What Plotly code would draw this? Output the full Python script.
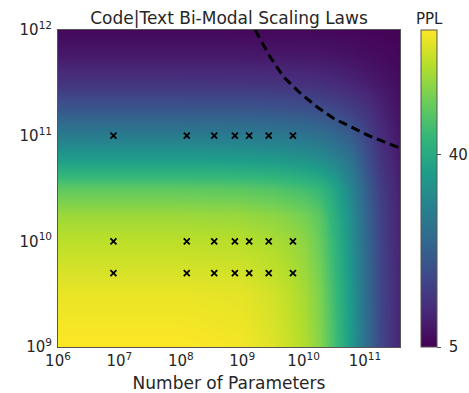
import numpy as np
import plotly.graph_objects as go

# Surface of the fitted perplexity, sampled on a log10 grid
log_params = [6, 8, 9, 9.5, 9.75, 10, 10.25, 10.5, 10.75, 11, 11.25, 11.57]
log_tokens = [9, 9.5, 10, 10.25, 10.5, 10.75, 11, 11.25, 11.5, 11.75, 12]
ppl_grid = [
    [62.7, 62.7, 61.8, 59.8, 58.1, 55.8, 52.3, 45.4, 36.7, 26.3, 17.7, 10.8],
    [61.0, 61.0, 60.5, 58.8, 57.1, 54.9, 51.5, 44.7, 36.2, 26.0, 17.5, 10.7],
    [56.9, 56.9, 56.5, 55.4, 54.4, 52.7, 49.4, 42.9, 34.8, 25.0, 16.9, 10.4],
    [54.0, 54.0, 53.6, 52.6, 51.7, 50.4, 47.9, 41.6, 33.8, 24.4, 16.5, 10.2],
    [48.3, 48.3, 47.9, 47.0, 46.2, 45.1, 43.4, 39.0, 31.7, 23.0, 15.7, 9.9],
    [37.9, 37.9, 37.6, 36.9, 36.3, 35.5, 34.2, 31.6, 27.6, 20.2, 14.1, 9.1],
    [29.2, 29.2, 29.0, 28.5, 28.1, 27.4, 26.5, 24.6, 21.9, 17.7, 12.5, 8.4],
    [20.6, 20.6, 20.4, 20.1, 19.8, 19.4, 18.8, 17.6, 15.9, 13.6, 10.8, 7.6],
    [13.7, 13.7, 13.6, 13.4, 13.2, 13.0, 12.7, 12.0, 11.0, 9.8, 8.5, 6.8],
    [9.0, 9.0, 9.0, 8.9, 8.8, 8.7, 8.6, 8.3, 7.8, 7.2, 6.6, 6.0],
    [6.2, 6.2, 6.1, 6.1, 6.1, 6.1, 6.0, 5.9, 5.8, 5.6, 5.5, 5.3],
]

# Trained runs: model sizes and token budgets
model_params = [8e6, 1.25e8, 3.5e8, 7.6e8, 1.3e9, 2.7e9, 6.7e9]
train_tokens = [5e9, 1e10, 1e11]

# Frontier curve
frontier_params = [1.62e9, 2.84e9, 4.69e9, 8.85e9, 1.64e10, 3.06e10, 5.74e10, 1.07e11, 2.0e11, 3.75e11]
frontier_tokens = [1e12, 5.58e11, 3.61e11, 2.52e11, 1.88e11, 1.46e11, 1.22e11, 1.02e11, 8.77e10, 7.6e10]

x_ticks = [6, 7, 8, 9, 10, 11]
y_ticks = [9, 10, 11, 12]
cbar_ticks = [5, 40]
ppl_min, ppl_max = 5, 62.7

FONT = "DejaVu Sans"
TXT = "#262626"
L, R, T, B = 58, 69, 30, 46
W, H = 469, 393
PW, PH = W - L - R, H - T - B

fig = go.Figure()

fig.add_trace(go.Heatmap(
    x=log_params, y=log_tokens, z=ppl_grid,
    colorscale="Viridis", zmin=ppl_min, zmax=ppl_max, zsmooth="best",
    colorbar=dict(
        x=(421 - L) / PW, xanchor="left", xpad=0, ypad=0,
        y=0.5, yanchor="middle", len=1, lenmode="fraction",
        thickness=16, outlinewidth=1, outlinecolor="#555555",
        tickvals=cbar_ticks, ticktext=["\u00a0" + str(t) for t in cbar_ticks],
        ticks="outside", ticklen=4, tickcolor="#555555",
        tickfont=dict(family=FONT, size=15, color=TXT),
    ),
    hoverinfo="skip",
))

mx = [np.log10(n) for d in train_tokens for n in model_params]
my = [np.log10(d) for d in train_tokens for n in model_params]
fig.add_trace(go.Scatter(
    x=mx, y=my, mode="markers",
    marker=dict(symbol="x-thin", size=6, color="black", line=dict(width=1.8, color="black")),
    showlegend=False,
))

fig.add_trace(go.Scatter(
    x=np.log10(frontier_params), y=np.log10(frontier_tokens), mode="lines",
    line=dict(color="black", width=3, dash="9px,5px"),
    showlegend=False,
))

axis_common = dict(
    showgrid=False, zeroline=False, showline=True, mirror=True,
    linecolor="#555555", linewidth=1, ticks="",
    tickfont=dict(family=FONT, size=15, color=TXT),
)

fig.update_layout(
    width=W, height=H,
    margin=dict(l=L, r=R, t=T, b=B, autoexpand=False),
    paper_bgcolor="white", plot_bgcolor="white",
    font=dict(family=FONT, color=TXT),
    title=dict(
        text="Code|Text Bi-Modal Scaling Laws",
        x=(L + L + PW) / 2 / W, xanchor="center",
        y=1 - 18 / H, yanchor="middle",
        font=dict(family=FONT, size=17, color=TXT),
    ),
    xaxis=dict(
        range=[6, 11.57], tickvals=x_ticks,
        ticktext=[f"10<sup>{t}</sup>" for t in x_ticks],
        title=dict(text="Number of Parameters", font=dict(family=FONT, size=17, color=TXT), standoff=8),
        **axis_common,
    ),
    yaxis=dict(
        range=[9, 12], tickvals=y_ticks,
        ticktext=[f"10<sup>{t}</sup>" for t in y_ticks],
        ticklabelstandoff=2,
        **axis_common,
    ),
    annotations=[dict(
        text="PPL", xref="paper", yref="paper",
        x=(429 - L) / PW, y=1 + (T - 19) / PH,
        xanchor="center", yanchor="middle", showarrow=False,
        font=dict(family=FONT, size=15, color=TXT),
    )],
    showlegend=False,
)

fig.write_html("out.html")
